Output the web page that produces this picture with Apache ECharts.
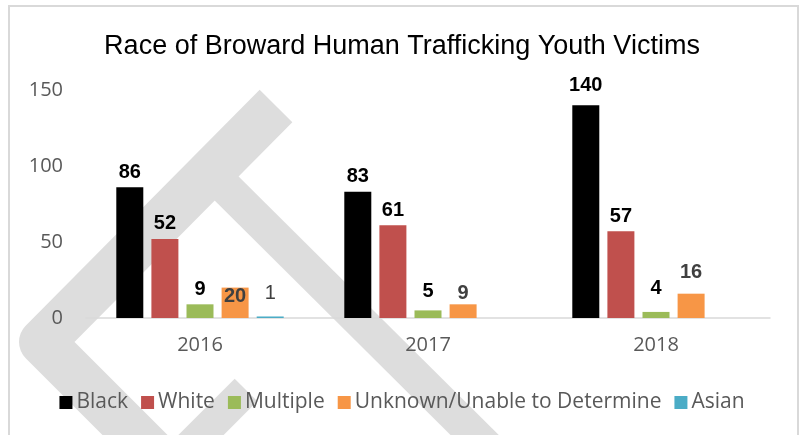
<!DOCTYPE html>
<html>
<head>
<meta charset="utf-8">
<script src="https://cdn.jsdelivr.net/npm/echarts@6/dist/echarts.min.js"></script>
<style>
html,body{margin:0;padding:0;background:#fff;}
#chart{width:804px;height:435px;}
</style>
</head>
<body>
<div id="chart"></div>
<script>
// ---- data ----
const years = ['2016', '2017', '2018'];
const seriesNames = ['Black', 'White', 'Multiple', 'Unknown/Unable to Determine', 'Asian'];
const black = [86, 83, 140];
const white = [52, 61, 57];
const multiple = [9, 5, 4];
const unknown = [20, 9, 16];
const asian = [1, null, null];
const yTicks = [0, 50, 100, 150];

const colors = ['#000000', '#C0504D', '#9BBB59', '#F79646', '#4BACC6'];
const values = [black, white, multiple, unknown, asian];

// label styling per series
const labelStyles = [
  {color: '#000', fontWeight: 'bold'},
  {color: '#000', fontWeight: 'bold'},
  {color: '#000', fontWeight: 'bold'},
  {color: '#404040', fontWeight: 'bold'},
  {color: '#404040', fontWeight: 'normal'}
];
// small label nudges (series index -> data index -> dy)
const labelNudge = {3: {0: 24, 1: 4, 2: -6}, 4: {0: -8}, 2: {1: -4, 2: -8}, 0: {2: -5}};

const chart = echarts.init(document.getElementById('chart'), null, {renderer: 'canvas'});

const series = values.map((arr, si) => ({
  name: seriesNames[si],
  type: 'bar',
  barWidth: 27,
  barGap: '30%',
  itemStyle: {color: colors[si]},
  label: {
    show: true,
    position: 'top',
    distance: 5,
    fontFamily: "'Liberation Sans', Arial, sans-serif",
    fontSize: 20,
    color: labelStyles[si].color,
    fontWeight: labelStyles[si].fontWeight
  },
  data: arr.map((v, di) => {
    const dy = labelNudge[si] && labelNudge[si][di];
    if (v === null) return '-';
    if (dy) return {value: v, label: {offset: [0, dy]}};
    return v;
  })
}));

const band = '#dddddd';
const option = {
  animation: false,
  backgroundColor: '#ffffff',
  title: {
    text: 'Race of Broward Human Trafficking Youth Victims',
    left: 'center',
    top: 28,
    textStyle: {
      fontFamily: "'Liberation Sans', Arial, sans-serif",
      fontSize: 27,
      fontWeight: 'normal',
      color: '#000'
    }
  },
  color: colors,
  legend: {
    data: seriesNames,
    left: 'center',
    top: 387,
    icon: 'rect',
    itemWidth: 13,
    itemHeight: 13,
    itemGap: 13,
    textStyle: {
      fontFamily: "'Open Sans', sans-serif",
      fontSize: 21,
      color: '#595959',
      padding: [0, 0, 0, -1]
    }
  },
  grid: {left: 86, right: 34, top: 90, bottom: 117, containLabel: false},
  xAxis: {
    type: 'category',
    data: years,
    axisLine: {lineStyle: {color: '#d9d9d9', width: 1.5}},
    axisTick: {show: false},
    axisLabel: {
      margin: 17,
      fontFamily: "'Open Sans', sans-serif",
      fontSize: 20,
      color: '#595959'
    }
  },
  yAxis: {
    type: 'value',
    min: yTicks[0],
    max: yTicks[yTicks.length - 1],
    interval: yTicks[1] - yTicks[0],
    axisLine: {show: false},
    axisTick: {show: false},
    splitLine: {show: false},
    axisLabel: {
      margin: 23,
      fontFamily: "'Open Sans', sans-serif",
      fontSize: 20,
      color: '#595959'
    }
  },
  graphic: {
    elements: [
      {type: 'polyline', z: -10, silent: true,
        shape: {points: [[276, 106], [42, 342], [170, 470]]},
        style: {stroke: band, lineWidth: 46, fill: null, lineCap: 'butt', lineJoin: 'round'}},
      {type: 'polyline', z: -10, silent: true,
        shape: {points: [[206, 168], [530, 490]]},
        style: {stroke: band, lineWidth: 34, fill: null, lineCap: 'butt'}},
      {type: 'polyline', z: -10, silent: true,
        shape: {points: [[246, 390], [176, 460]]},
        style: {stroke: band, lineWidth: 32, fill: null, lineCap: 'butt'}},
      {type: 'rect', z: -9, silent: true,
        shape: {x: 9, y: 6, width: 789, height: 460},
        style: {stroke: '#d9d9d9', lineWidth: 2, fill: null}}
    ]
  },
  series: series
};
chart.setOption(option);
</script>
</body>
</html>
